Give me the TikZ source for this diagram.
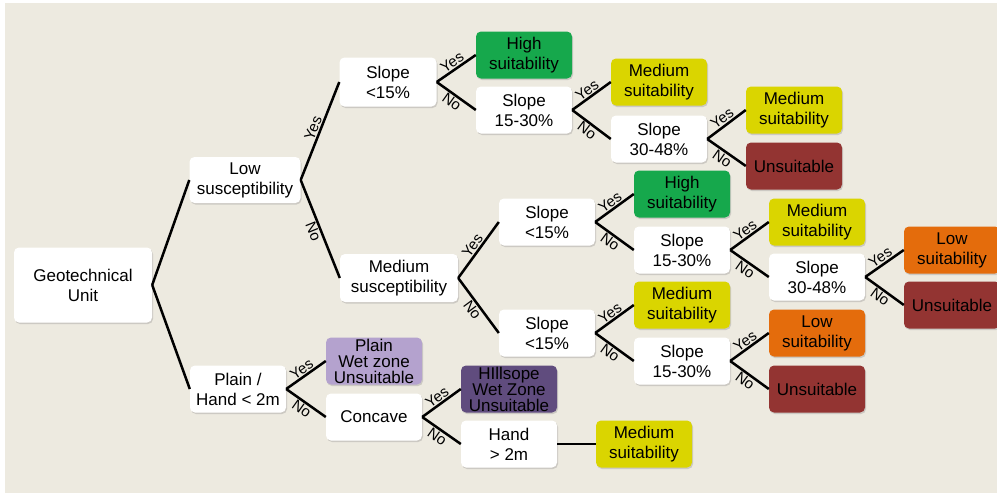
\documentclass[tikz,border=0pt]{standalone}
\usepackage{fontspec}
\setmainfont{Liberation Sans}
\usetikzlibrary{shadows}
\definecolor{bgc}{RGB}{237,234,224}
\definecolor{cgreen}{RGB}{22,168,76}
\definecolor{cyellow}{RGB}{218,213,0}
\definecolor{cred}{RGB}{147,52,50}
\definecolor{corange}{RGB}{228,108,12}
\definecolor{clav}{RGB}{180,162,206}
\definecolor{cpurple}{RGB}{96,76,126}
\tikzset{
  box/.style={fill=white, rounded corners=5pt, minimum width=96pt, minimum height=47pt,
    align=center, inner sep=0pt, font=\fontsize{17}{20}\selectfont,
    drop shadow={shadow xshift=1pt, shadow yshift=-1.5pt, opacity=0.3}},
  tight/.style={font=\fontsize{17}{16}\selectfont},
  conn/.style={line width=2.5pt, black},
  lblyes/.style={sloped, above, inner sep=1pt, font=\fontsize{15}{15}\selectfont},
  lblno/.style={sloped, below, inner sep=1pt, font=\fontsize{15}{15}\selectfont},
}
\begin{document}
\begin{tikzpicture}[x=1pt,y=-1pt]
\useasboundingbox (0,0) rectangle (997,493);
\clip (0,0) rectangle (997,493);
\fill[white] (0,0) rectangle (997,493);
\fill[bgc] (5,3) rectangle (997,493);

% level 0
\node[box, minimum width=138pt, minimum height=75pt] (geo) at (83,285) {Geotechnical\\Unit};
% level 1
\node[box, minimum width=111pt, minimum height=46pt] (low) at (245,180) {Low\\susceptibility};
\node[box] (plain) at (238,389) {Plain /\\Hand < 2m};
% level 2
\node[box, minimum width=97pt, minimum height=49pt] (s1) at (388,82) {Slope\\<15\%};
\node[box, minimum width=118pt, minimum height=48pt] (med) at (399,278) {Medium\\susceptibility};
\node[box, fill=clav, tight] (pwz) at (374,361) {Plain\\Wet zone\\Unsuitable};
\node[box] (conc) at (374,417) {Concave};
% top branch
\node[box, fill=cgreen] (h1) at (524,55) {High\\suitability};
\node[box] (s2) at (524,110) {Slope\\15-30\%};
\node[box, fill=cyellow] (m1) at (659,82) {Medium\\suitability};
\node[box] (s3) at (659,139) {Slope\\30-48\%};
\node[box, fill=cyellow] (m2) at (794,110) {Medium\\suitability};
\node[box, fill=cred] (u1) at (794,166) {Unsuitable};
% medium branch
\node[box] (s4) at (547,222) {Slope\\<15\%};
\node[box] (s5) at (547,333) {Slope\\<15\%};
\node[box, fill=cgreen] (h2) at (682,194) {High\\suitability};
\node[box] (s6) at (682,250) {Slope\\15-30\%};
\node[box, fill=cyellow] (m3) at (682,305) {Medium\\suitability};
\node[box] (s7) at (682,361) {Slope\\15-30\%};
\node[box, fill=cyellow] (m4) at (817,222) {Medium\\suitability};
\node[box] (s8) at (817,277) {Slope\\30-48\%};
\node[box, fill=corange] (l1) at (952,250) {Low\\suitability};
\node[box, fill=cred] (u2) at (952,305) {Unsuitable};
\node[box, fill=corange] (l2) at (817,333) {Low\\suitability};
\node[box, fill=cred] (u3) at (817,389) {Unsuitable};
% plain branch
\node[box, fill=cpurple, tight] (hwz) at (509,389) {HIllsope\\Wet Zone\\Unsuitable};
\node[box] (hand) at (509,444) {Hand\\> 2m};
\node[box, fill=cyellow] (m5) at (644,444) {Medium\\suitability};

% connectors
\draw[conn] (geo.east) -- (low.west);
\draw[conn] (geo.east) -- (plain.west);
\draw[conn] (low.east) -- node[lblyes]{Yes} (s1.west);
\draw[conn] (low.east) -- node[lblno]{No} (med.west);
\draw[conn] (s1.east) -- node[lblyes]{Yes} (h1.west);
\draw[conn] (s1.east) -- node[lblno]{No} (s2.west);
\draw[conn] (s2.east) -- node[lblyes]{Yes} (m1.west);
\draw[conn] (s2.east) -- node[lblno]{No} (s3.west);
\draw[conn] (s3.east) -- node[lblyes]{Yes} (m2.west);
\draw[conn] (s3.east) -- node[lblno]{No} (u1.west);
\draw[conn] (med.east) -- node[lblyes]{Yes} (s4.west);
\draw[conn] (med.east) -- node[lblno]{No} (s5.west);
\draw[conn] (s4.east) -- node[lblyes]{Yes} (h2.west);
\draw[conn] (s4.east) -- node[lblno]{No} (s6.west);
\draw[conn] (s6.east) -- node[lblyes]{Yes} (m4.west);
\draw[conn] (s6.east) -- node[lblno]{No} (s8.west);
\draw[conn] (s8.east) -- node[lblyes]{Yes} (l1.west);
\draw[conn] (s8.east) -- node[lblno]{No} (u2.west);
\draw[conn] (s5.east) -- node[lblyes]{Yes} (m3.west);
\draw[conn] (s5.east) -- node[lblno]{No} (s7.west);
\draw[conn] (s7.east) -- node[lblyes]{Yes} (l2.west);
\draw[conn] (s7.east) -- node[lblno]{No} (u3.west);
\draw[conn] (plain.east) -- node[lblyes]{Yes} (pwz.west);
\draw[conn] (plain.east) -- node[lblno]{No} (conc.west);
\draw[conn] (conc.east) -- node[lblyes]{Yes} (hwz.west);
\draw[conn] (conc.east) -- node[lblno]{No} (hand.west);
\draw[conn] (hand.east) -- (m5.west);
\end{tikzpicture}
\end{document}
